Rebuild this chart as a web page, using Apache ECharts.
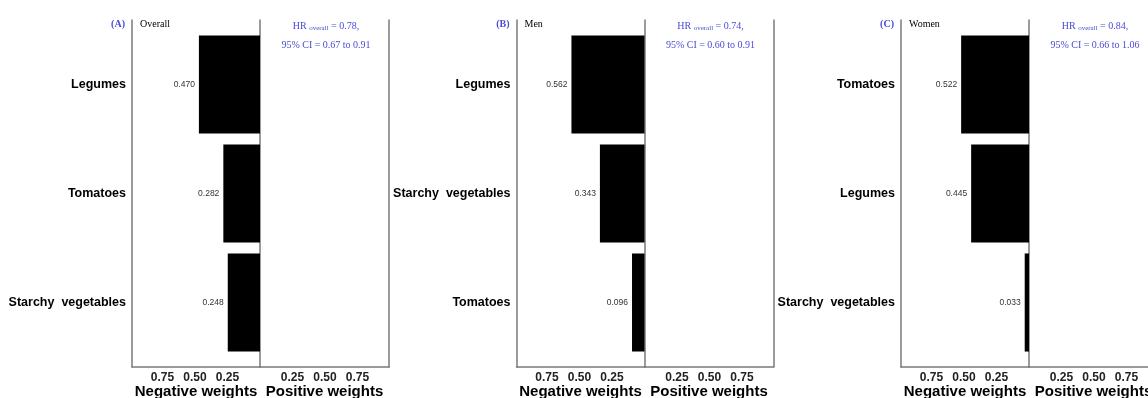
<!DOCTYPE html>
<html>
<head>
<meta charset="utf-8">
<script src="https://cdn.jsdelivr.net/npm/echarts@6/dist/echarts.min.js"></script>
<style>
  html, body { margin: 0; padding: 0; background: #fff; }
  #chart { width: 1148px; height: 398px; }
</style>
</head>
<body>
<div id="chart"></div>
<script>
// Food-group weights per panel (negative weights only)
const panelTags = ['(A)', '(B)', '(C)'];
const panelNames = ['Overall', 'Men', 'Women'];
const categoriesA = ['Legumes', 'Tomatoes', 'Starchy  vegetables'];
const valuesA = [0.470, 0.282, 0.248];
const categoriesB = ['Legumes', 'Starchy  vegetables', 'Tomatoes'];
const valuesB = [0.562, 0.343, 0.096];
const categoriesC = ['Tomatoes', 'Legumes', 'Starchy  vegetables'];
const valuesC = [0.522, 0.445, 0.033];
const hrValues = ['0.78', '0.74', '0.84'];
const ciLow = ['0.67', '0.60', '0.66'];
const ciHigh = ['0.91', '0.91', '1.06'];
const tickLabels = ['0.25', '0.50', '0.75'];

const categories = [categoriesA, categoriesB, categoriesC];
const values = [valuesA, valuesB, valuesC];

const SANS = '"Liberation Sans", Arial, sans-serif';
const SERIF = '"Liberation Serif", "Times New Roman", serif';
const FRAME = '#7a7a7a';
const BLUE = '#4b4bd6';

const centers = [260, 644.5, 1029];
const halfL = 128, halfR = 129;
const scalePx = 130;           // pixels per unit weight
const frameTop = 20, frameH = 347;
const dataTop = 30, dataH = 327;

const grid = [], xAxis = [], yAxis = [], series = [], graphic = [];

function tickFmt(v) {
  const s = v.toFixed(2);
  return tickLabels.indexOf(s) >= 0 ? s : '';
}

centers.forEach((cx, p) => {
  const g0 = grid.length;
  // left frame, right frame, left data
  const gbase = { outerBoundsMode: 'none', containLabel: false };
  grid.push(Object.assign({ left: cx - halfL, width: halfL, top: frameTop, height: frameH }, gbase));
  grid.push(Object.assign({ left: cx, width: halfR, top: frameTop, height: frameH }, gbase));
  grid.push(Object.assign({ left: cx - halfL, width: halfL, top: dataTop, height: dataH }, gbase));

  const axisLabel = { formatter: tickFmt, fontFamily: SANS, fontWeight: 'bold', fontSize: 12, color: '#222', margin: 5, showMinLabel: false, showMaxLabel: false };
  const nameStyle = { fontFamily: SANS, fontWeight: 'bold', fontSize: 15, color: '#000' };

  xAxis.push({
    type: 'value', gridIndex: g0, min: 0, max: halfL / scalePx, interval: 0.25, inverse: true,
    axisLine: { show: true, lineStyle: { color: FRAME, width: 1.5 } },
    axisTick: { show: false }, splitLine: { show: false }, axisLabel,
    name: 'Negative weights', nameLocation: 'middle', nameGap: 17, nameMoveOverlap: false, nameTextStyle: nameStyle
  });
  xAxis.push({
    type: 'value', gridIndex: g0 + 1, min: 0, max: halfR / scalePx, interval: 0.25,
    axisLine: { show: true, lineStyle: { color: FRAME, width: 1.5 } },
    axisTick: { show: false }, splitLine: { show: false }, axisLabel,
    name: 'Positive weights', nameLocation: 'middle', nameGap: 17, nameMoveOverlap: false, nameTextStyle: nameStyle
  });
  xAxis.push({ type: 'value', gridIndex: g0 + 2, min: 0, max: halfL / scalePx, inverse: true, show: false });

  const frameY = (gi, pos) => ({
    type: 'value', gridIndex: gi, min: 0, max: 1, position: pos,
    axisLine: { show: true, onZero: false, lineStyle: { color: FRAME, width: 1.5 } },
    axisTick: { show: false }, axisLabel: { show: false }, splitLine: { show: false }
  });
  yAxis.push(frameY(g0, 'left'));
  yAxis.push(frameY(g0 + 1, 'left'));
  yAxis.push(frameY(g0 + 1, 'right'));
  const yData = yAxis.length;
  yAxis.push({
    type: 'category', gridIndex: g0 + 2, data: categories[p], inverse: true,
    axisLine: { show: false },
    axisTick: { show: true, alignWithLabel: true, length: 4, lineStyle: { color: FRAME } },
    axisLabel: { fontFamily: SANS, fontWeight: 'bold', fontSize: 12.5, color: '#000', margin: 6 },
    splitLine: { show: false }
  });

  series.push({
    type: 'bar', xAxisIndex: g0 + 2, yAxisIndex: yData,
    data: values[p], barWidth: '90%',
    itemStyle: { color: '#000' },
    label: {
      show: true, position: 'left', distance: 4,
      formatter: (d) => d.value.toFixed(3),
      fontFamily: SANS, fontSize: 8.5, color: '#333'
    },
    silent: true, animation: false
  });

  graphic.push({
    type: 'text', x: cx - halfL - 7, y: 24,
    style: { text: panelTags[p], fill: BLUE, font: 'bold 10px ' + SERIF, textAlign: 'right', textVerticalAlign: 'middle' }
  });
  graphic.push({
    type: 'text', x: cx - halfL + 8, y: 24,
    style: { text: panelNames[p], fill: '#000', font: '10px ' + SERIF, textAlign: 'left', textVerticalAlign: 'middle' }
  });
  graphic.push({
    type: 'text', x: cx + 66, y: 26,
    style: {
      text: 'HR {sub|overall} = ' + hrValues[p] + ',',
      fill: BLUE, font: '10px ' + SERIF, textAlign: 'center', textVerticalAlign: 'middle',
      rich: { sub: { fontFamily: SERIF, fontSize: 7, fill: BLUE, verticalAlign: 'bottom', padding: [4, 0, 0, 0] } }
    }
  });
  graphic.push({
    type: 'text', x: cx + 66, y: 45,
    style: {
      text: '95% CI = ' + ciLow[p] + ' to ' + ciHigh[p],
      fill: BLUE, font: '10px ' + SERIF, textAlign: 'center', textVerticalAlign: 'middle'
    }
  });
});

const chart = echarts.init(document.getElementById('chart'), null, { renderer: 'canvas' });
chart.setOption({
  animation: false,
  backgroundColor: '#fff',
  grid, xAxis, yAxis, series, graphic
});
</script>
</body>
</html>
